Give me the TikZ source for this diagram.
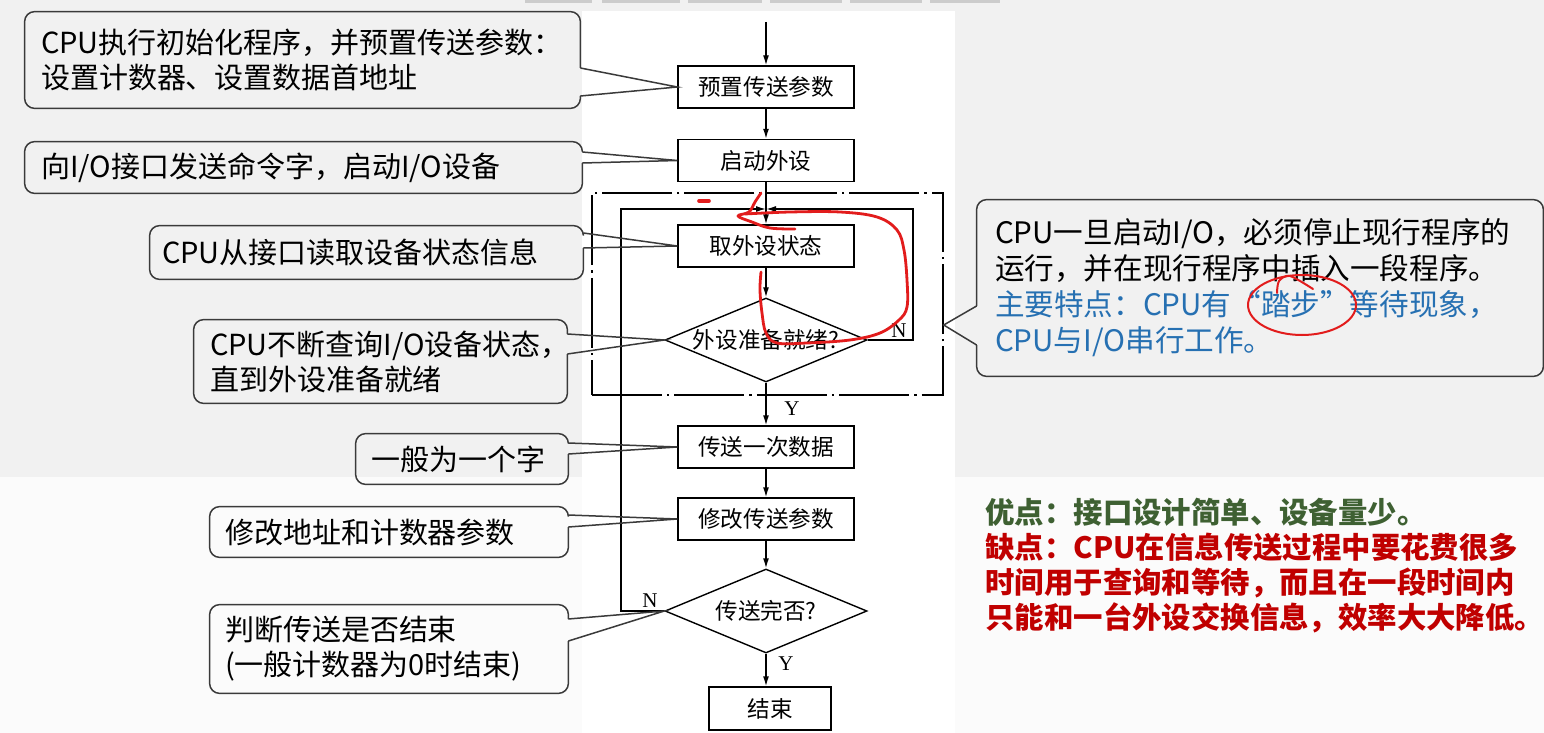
\documentclass[tikz,border=0pt]{standalone}
\usepackage{fontspec}
\setmainfont{Noto Sans CJK SC}
\newfontfamily\serfont{Liberation Serif}
\usetikzlibrary{arrows.meta,shapes.geometric}
\definecolor{bgA}{HTML}{F1F1F1}
\definecolor{bgB}{HTML}{FBFBFB}
\definecolor{cogray}{HTML}{3A3A3A}
\definecolor{tblue}{RGB}{38,112,178}
\definecolor{tgreen}{RGB}{62,96,50}
\definecolor{tred}{RGB}{192,0,0}
\definecolor{penred}{RGB}{226,28,28}
\newcommand\calloutR[4]{%
  \draw[coline, rounded corners=5pt] (#1.east |- 0,#3) -- (#1.south east) -- (#1.south west) -- (#1.north west) -- (#1.north east) -- (#1.east |- 0,#2);
  \draw[coline] (#1.east |- 0,#2) -- (#4) -- (#1.east |- 0,#3);}
\begin{document}
\begin{tikzpicture}[x=0.5pt,y=-0.5pt,
  fbox/.style={draw, line width=0.7pt, minimum width=88pt, minimum height=21pt, inner sep=0pt, font=\fontsize{11.3}{13}\selectfont},
  fdia/.style={draw, diamond, line width=0.7pt, minimum width=101pt, minimum height=42pt, inner sep=0pt},
  dtext/.style={font=\fontsize{11.3}{13}\selectfont},
  flow/.style={line width=0.7pt, -{Latex[length=5pt,width=3pt]}},
  lbl/.style={font=\serfont\fontsize{10.5}{12}\selectfont, inner sep=0pt},
  cotext/.style={align=left, inner ysep=0pt, font=\fontsize{14.5}{17.5}\selectfont},
  coline/.style={draw=cogray, line width=0.75pt},
  pen/.style={draw=penred, line width=1.4pt, line cap=round, line join=round}]
\useasboundingbox (0,0) rectangle (1544,733);
% background
\fill[bgA] (0,0) rectangle (1544,477);
\fill[bgB] (0,477) rectangle (1544,733);
\foreach \a/\b in {525/592,602/680,688/762,770/842,850/922,930/1000}
  \fill[gray!40] (\a,0) rectangle (\b,3);
\fill[white] (582,11) rectangle (955,733);
% dash-dot box
\node[draw, line width=0.7pt, dash pattern=on 35pt off 2.5pt on 1.2pt off 2.5pt,
      minimum width=175.5pt, minimum height=101pt, inner sep=0pt] (dbox) at (767.5,294) {};
% flowchart
\node[fbox] (b1) at (766,87) {预置传送参数};
\node[fbox] (b2) at (766,160.5) {启动外设};
\node[fbox] (b3) at (766,246) {取外设状态};
\node[fdia, label={[dtext]center:外设准备就绪?}] (d1) at (766,340) {};
\node[fbox] (b4) at (766,447) {传送一次数据};
\node[fbox] (b5) at (766,519) {修改传送参数};
\node[fdia, label={[dtext]center:传送完否?}] (d2) at (766,611) {};
\node[fbox, minimum width=61pt, minimum height=21.5pt] (b6) at (770,708.5) {结束};
\coordinate (top) at (766,22);
\coordinate (j) at (766,209);
\coordinate (r1) at (913,340);
\coordinate (l2) at (621,611);
\draw[flow] (top) -- (b1);
\draw[flow] (b1) -- (b2);
\draw[flow] (b2) -- (b3);
\draw[flow] (b3) -- (d1);
\draw[flow] (d1) -- (b4);
\draw[flow] (b4) -- (b5);
\draw[flow] (b5) -- (d2);
\draw[flow] (d2.south) -- (d2.south |- b6.north);
\draw[flow] (d1.east) -- (r1) |- (j);
\draw[flow] (d2.west) -- (l2) |- (j);
\node[lbl] (n1) at (899,331) {N};
\node[lbl] (n2) at (650,601) {N};
\node[lbl] (y1) at (792,409) {Y};
\node[lbl] (y2) at (786,664) {Y};
% left callouts
\node[cotext, minimum width=277.5pt, minimum height=48pt, inner xsep=8pt, text width=261.5pt] (c1) at (302.5,60)
  {CPU执行初始化程序，并预置传送参数：\\设置计数器、设置数据首地址};
\calloutR{c1}{68}{96}{b1.west}
\node[cotext, minimum width=278.5pt, minimum height=25.5pt, inner xsep=8pt, text width=262.5pt] (c2) at (303.5,167.5)
  {向I/O接口发送命令字，启动I/O设备};
\calloutR{c2}{152}{163}{b2.west}
\node[cotext, minimum width=216.5pt, minimum height=26.5pt, inner xsep=6pt, text width=204.5pt] (c3) at (366.5,252.5)
  {CPU从接口读取设备状态信息};
\calloutR{c3}{233}{248}{b3.west}
\node[cotext, minimum width=186.5pt, minimum height=41.5pt, inner xsep=8pt, text width=170.5pt] (c4) at (380.5,361.5)
  {CPU不断查询I/O设备状态，\\直到外设准备就绪};
\calloutR{c4}{334}{354}{d1.west}
\node[cotext, minimum width=106pt, minimum height=25pt, inner xsep=7.5pt, text width=91pt] (c5) at (462,459)
  {一般为一个字};
\calloutR{c5}{443}{454}{b4.west}
\node[cotext, minimum width=179pt, minimum height=25pt, inner xsep=7.5pt, text width=164pt] (c6) at (389,532)
  {修改地址和计数器参数};
\calloutR{c6}{515}{527}{b5.west}
\node[cotext, minimum width=179pt, minimum height=44pt, inner xsep=7.5pt, text width=164pt] (c7) at (389,649)
  {判断传送是否结束\\(一般计数器为0时结束)};
\calloutR{c7}{619}{641}{d2.west}
% right callout
\node[cotext, font=\fontsize{14.8}{18}\selectfont, minimum width=283pt, minimum height=88pt, inner xsep=9pt, text width=265pt] (cr) at (1260,288)
  {CPU一旦启动I/O，必须停止现行程序的\\运行，并在现行程序中插入一段程序。\\\textcolor{tblue}{主要特点：CPU有“踏步”等待现象，}\\\textcolor{tblue}{CPU与I/O串行工作。}};
\draw[coline, rounded corners=5pt] (cr.west |- 0,345) -- (cr.south west) -- (cr.south east) -- (cr.north east) -- (cr.north west) -- (cr.west |- 0,306);
\draw[coline] (cr.west |- 0,306) -- (dbox.east |- 0,325) -- (cr.west |- 0,345);
% pros and cons
\node[anchor=west, align=left, inner sep=0pt, font=\bfseries\fontsize{14.7}{17.5}\selectfont] (adv) at (985,566)
  {\textcolor{tgreen}{优点：接口设计简单、设备量少。}\\
   \textcolor{tred}{缺点：CPU在信息传送过程中要花费很多}\\
   \textcolor{tred}{时间用于查询和等待，而且在一段时间内}\\
   \textcolor{tred}{只能和一台外设交换信息，效率大大降低。}};
% red pen annotations
\draw[pen] plot[smooth, tension=0.6] coordinates {(761,193) (755,202) (749,212) (738,216) (752,222) (770,228) (795,229)};
\draw[pen] plot[smooth, tension=0.6] coordinates {(745,214) (790,212) (840,212) (877,217) (897,230) (904,250) (907,280) (907,307) (899,320) (880,333) (850,340) (807,343) (777,343) (766,333) (762,313) (760,290) (761,272)};
\draw[pen, line width=1.8pt] (699,201) -- (709,201);
\draw[pen, line width=1pt] (1302,305) ellipse [x radius=27pt, y radius=15pt];
\draw[pen, line width=1pt] plot[smooth] coordinates {(1277,293) (1279,281) (1290,276) (1313,289)};
\end{tikzpicture}
\end{document}
